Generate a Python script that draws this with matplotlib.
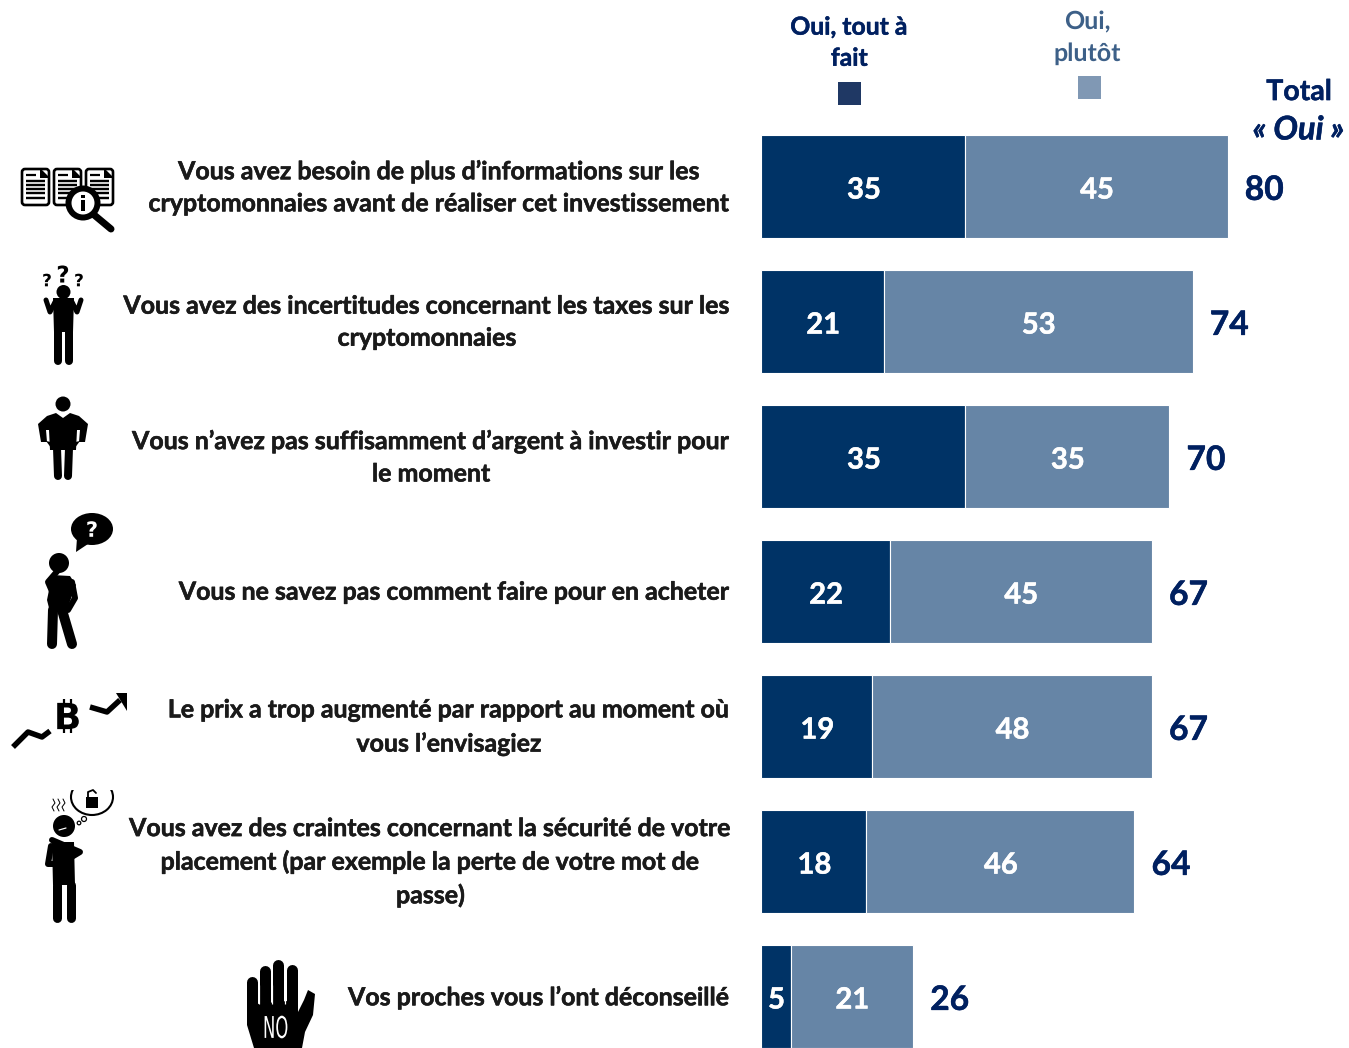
import matplotlib
matplotlib.use("Agg")
import matplotlib.pyplot as plt
import matplotlib.patheffects as pe
from matplotlib.font_manager import FontProperties
from matplotlib.patches import Circle, Ellipse, FancyBboxPatch, PathPatch, Polygon, Rectangle
from matplotlib.textpath import TextPath
from matplotlib.transforms import Affine2D

plt.rcParams['font.family'] = ['Lato', 'DejaVu Sans']
plt.rcParams['text.hinting'] = 'no_hinting'
plt.rcParams['text.hinting_factor'] = 1

labels = [
    "Vous avez besoin de plus d’informations sur les\ncryptomonnaies avant de réaliser cet investissement",
    "Vous avez des incertitudes concernant les taxes sur les\ncryptomonnaies",
    "Vous n’avez pas suffisamment d’argent à investir pour\nle moment",
    "Vous ne savez pas comment faire pour en acheter",
    "Le prix a trop augmenté par rapport au moment où\nvous l’envisagiez",
    "Vous avez des craintes concernant la sécurité de votre\nplacement (par exemple la perte de votre mot de\npasse)",
    "Vos proches vous l’ont déconseillé",
]
tout_a_fait = [35, 21, 35, 22, 19, 18, 5]
plutot = [45, 53, 35, 45, 48, 46, 21]
totals = [80, 74, 70, 67, 67, 64, 26]

DARK = '#003366'
LIGHT = '#6685A6'
NAVY = '#002060'
W, H = 1349, 1048
fig = plt.figure(figsize=(W / 100, H / 100), dpi=100, facecolor='white')


def heavy(c, w=0.35):
    return [pe.withStroke(linewidth=w, foreground=c)]


# Pixel-space layer for icons, question text and legend
ic = fig.add_axes([0, 0, 1, 1])
ic.set_xlim(0, W)
ic.set_ylim(H, 0)
ic.axis('off')

# Bars
left_px, px_per_unit = 761.5, 5.825
pitch, first_c = 135, 186.7
ax = fig.add_axes([left_px / W, 0, 1 - left_px / W, 1])
ax.patch.set_alpha(0)
ax.set_xlim(0, (W - left_px) / px_per_unit)
ax.set_ylim((H - first_c) / pitch, -first_c / pitch)
ax.axis('off')
ys = list(range(len(labels)))
bh = 103 / pitch
b1 = ax.barh(ys, tout_a_fait, height=bh, color=DARK, edgecolor='white', linewidth=0.8)
b2 = ax.barh(ys, plutot, left=tout_a_fait, height=bh, color=LIGHT, edgecolor='white', linewidth=0.8)
for cont in (b1, b2):
    for lbl in ax.bar_label(cont, label_type='center', color='white', fontsize=21, fontweight='bold'):
        lbl.set_va('center_baseline')
        lbl.xyann = (0.3, -0.8)
        lbl.set_path_effects(heavy('white'))
for y, a, b, t in zip(ys, tout_a_fait, plutot, totals):
    ax.annotate(str(t), (a + b, y), xytext=(12.4, -0.4), textcoords='offset points', ha='left',
                va='center_baseline', color=NAVY, fontsize=24.2, fontweight='bold',
                path_effects=heavy(NAVY))

# Row labels
label_x = [730.5, 731, 730.5, 730.5, 730.5, 732, 730]
label_y = [187.5, 322.5, 457.5, 592.5, 727.5, 862.5, 997.5]
for lab, lx, ly in zip(labels, label_x, label_y):
    ic.text(lx, ly, lab, ha='right', va='center', multialignment='center',
            fontsize=17.95, fontweight='bold', color='#1a1a1a', linespacing=1.5,
            path_effects=heavy('#1a1a1a', 0.4))

# Legend and header
ic.text(849.5, 43, "Oui, tout à\nfait", ha='center', va='center', fontsize=17.8, fontweight='bold',
        color=NAVY, linespacing=1.45, path_effects=heavy(NAVY))
ic.text(1087, 38, "Oui,\nplutôt", ha='center', va='center', fontsize=17.8, fontweight='bold',
        color='#3D6088', linespacing=1.45)
ic.add_patch(Rectangle((838, 82), 23, 23, color='#1F3864', lw=0))
ic.add_patch(Rectangle((1078, 76), 23, 23, color='#8098B4', lw=0))
ic.text(1298.5, 92, "Total", ha='center', va='center', fontsize=20.5, fontweight='bold', color=NAVY,
        path_effects=heavy(NAVY))
ic.text(1299, 130, "« Oui »", ha='center', va='center', fontsize=23.5, fontweight='bold',
        style='italic', color=NAVY, path_effects=heavy(NAVY))


# ---- icon helpers (pixel coordinates) ----
def stroke(pts, w, c='black', cap='round', z=3):
    ic.plot([p[0] for p in pts], [p[1] for p in pts], color=c, lw=w * 0.72,
            solid_capstyle=cap, solid_joinstyle='round', zorder=z)


def poly(pts, c='black', z=3):
    ic.add_patch(Polygon(pts, closed=True, fc=c, ec='none', zorder=z))


def disc(x, y, r, c='black', z=3):
    ic.add_patch(Circle((x, y), r, fc=c, ec='none', zorder=z))


def glyph(s, x, y, size, c='black', z=4, weight='bold', xscale=1.0):
    tp = TextPath((0, 0), s, size=size, prop=FontProperties(family='DejaVu Sans', weight=weight))
    bb = tp.get_extents()
    tr = (Affine2D().translate(-(bb.x0 + bb.x1) / 2, -(bb.y0 + bb.y1) / 2)
          .scale(xscale, -1).translate(x, y))
    ic.add_patch(PathPatch(tp.transformed(tr), fc=c, ec='none', zorder=z))


# Documents + magnifier
for x0 in (22, 54, 86):
    ic.add_patch(FancyBboxPatch((x0, 169), 27, 36, boxstyle='round,pad=0,rounding_size=3',
                                fc='white', ec='black', lw=1.9, zorder=3))
    poly([(x0 + 18, 168), (x0 + 28, 178), (x0 + 18, 178)])
    stroke([(x0 + 4, 175), (x0 + 14, 175)], 2.2, cap='butt')
    for yy in (181, 185, 189, 193, 198):
        stroke([(x0 + 4, yy), (x0 + 23, yy)], 2.4, cap='butt')
stroke([(93, 214), (111, 229)], 7)
disc(83, 203, 17.5)
disc(83, 203, 11.5, 'white', 4)
glyph('i', 83, 203, 20, z=5)

# Person with three question marks
glyph('?', 47, 280, 17)
glyph('?', 63, 274, 23)
glyph('?', 79, 280, 17)
disc(63.5, 292, 7)
poly([(53, 298), (74, 298), (73, 332), (54, 332)])
stroke([(46, 300), (50, 312), (55, 302)], 5)
stroke([(81, 300), (77, 312), (72, 302)], 5)
stroke([(58, 328), (58, 361)], 8)
stroke([(69, 328), (69, 361)], 8)

# Person with empty pockets
disc(63, 404, 7.5)
poly([(47, 416), (56, 413), (63, 418), (70, 413), (79, 416), (88, 424), (85, 442), (79, 442), (80, 430),
      (77, 430), (76, 450), (50, 450), (49, 430), (46, 430), (47, 442), (41, 442), (38, 424)])
poly([(46, 441), (60, 444), (52, 449)])
poly([(80, 441), (66, 444), (74, 449)])
stroke([(57, 448), (58, 476)], 8)
stroke([(69, 448), (68, 476)], 8)

# Person thinking
ic.add_patch(Ellipse((92, 529), 42, 32, fc='black', ec='none', zorder=3))
poly([(77, 538), (88, 544), (76, 552)])
glyph('?', 92, 529, 21, 'white')
disc(59, 563, 10)
poly([(52, 575), (70, 576), (76, 585), (66, 612), (50, 612), (47, 600)])
stroke([(72, 582), (75, 598), (68, 610)], 6)
stroke([(60, 568), (48, 582), (54, 596)], 6)
stroke([(53, 610), (52, 644)], 10)
stroke([(62, 610), (72, 644)], 10)

# Bitcoin with rising trend
stroke([(13, 747), (28, 732), (42, 737), (50, 731)], 5.5, cap='butt')
stroke([(90, 707), (107, 712), (120, 700)], 5.5, cap='butt')
poly([(116, 693), (127, 693), (127, 711)])
glyph('B', 68, 716, 36)
for xx in (64, 71):
    stroke([(xx, 699), (xx, 705)], 2.2, cap='butt')
    stroke([(xx, 727), (xx, 733)], 2.2, cap='butt')

# Person worried about security
for xx in (53, 58, 63):
    stroke([(xx, 799), (xx + 2, 803), (xx - 1, 807), (xx + 1, 811)], 1)
ic.add_patch(Ellipse((92, 797), 42, 36, fc='white', ec='black', lw=1.5, zorder=3))
ic.add_patch(Rectangle((68, 775), 48, 15, fc='white', ec='none', zorder=3.5))
poly([(86, 797), (98, 797), (98, 808), (86, 808)], z=4)
stroke([(88, 797), (88, 792), (93, 790), (96, 793)], 1.8, z=4)
ic.add_patch(Circle((84, 819), 2.5, fc='white', ec='black', lw=0.9, zorder=3))
ic.add_patch(Circle((79, 823), 1.8, fc='white', ec='black', lw=0.9, zorder=3))
disc(64, 826, 11)
stroke([(59, 830), (66, 828)], 1.2, 'white', z=4)
poly([(52, 842), (74, 842), (75, 885), (53, 885)])
stroke([(51, 846), (48, 864), (66, 864)], 6)
stroke([(52, 840), (80, 852), (70, 858)], 6)
stroke([(57, 885), (57, 918)], 9)
stroke([(71, 885), (71, 918)], 9)

# NO hand
for cx, top, bot in ((252, 982, 1015), (265, 971, 1010), (278, 965, 1010), (292, 970, 1010)):
    stroke([(cx, top), (cx, bot)], 11)
for gx in (258.5, 271.5, 285):
    stroke([(gx, 985), (gx, 1004)], 1.2, 'white', cap='butt', z=3.5)
poly([(247, 1005), (298, 1000), (298, 1012), (304, 1000), (308, 990), (315, 994), (313, 1015), (305, 1032),
      (302, 1048), (254, 1048), (247, 1025)])
glyph('NO', 276, 1027, 30, 'white', weight='normal', xscale=0.55)

fig.savefig('out.png', dpi=100, facecolor='white')
